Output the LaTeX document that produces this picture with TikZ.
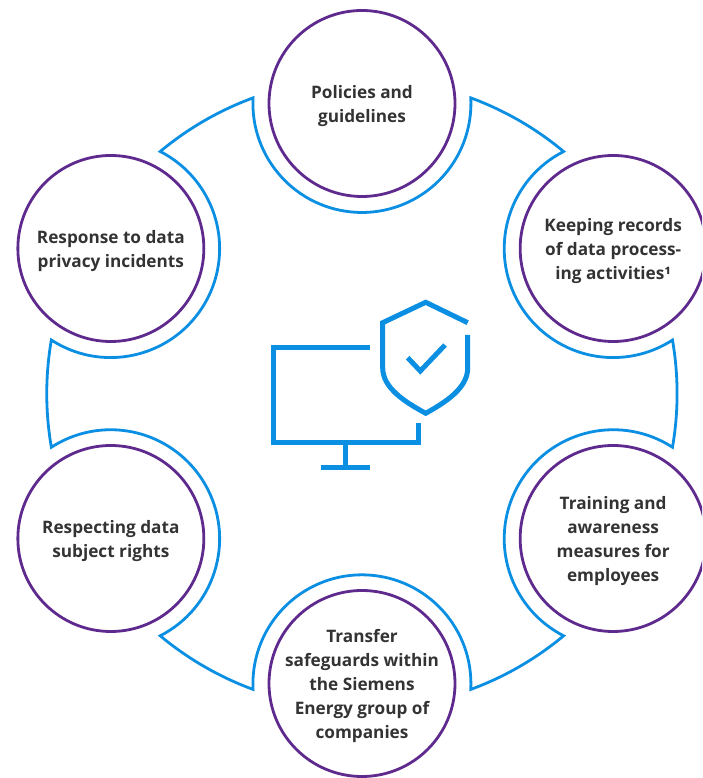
\documentclass[tikz,border=0pt]{standalone}
\usepackage{fontspec}
\usetikzlibrary{calc}
\setmainfont{Open Sans}
\definecolor{ringblue}{HTML}{0A8FE3}
\definecolor{rimpurple}{HTML}{5F2A8E}
\definecolor{labelgray}{HTML}{333333}
\tikzset{
  topic/.style={circle,draw=rimpurple,line width=2.8pt,minimum size=186pt,inner sep=0pt},
  topictext/.style={align=center,text=labelgray,inner sep=0pt,yshift=-2.5pt,
    font=\fontsize{17.2}{24}\selectfont\bfseries},
  ring/.style={draw=ringblue,line width=2.8pt,miter limit=10},
  icon/.style={draw=ringblue,line width=5pt}
}
% one ring segment: small arc inside node at angle #1, then the big arc to the next node
\newcommand{\ringseg}[1]{%
  arc[start angle=#1+87.06,delta angle=185.88,radius=109pt]
  arc[start angle=#1-20.2,delta angle=-19.6,radius=315pt]}
\begin{document}
\begin{tikzpicture}[x=1pt,y=1pt]
\useasboundingbox (0,0) rectangle (702,778);
\clip (0,0) rectangle (702,778);
\coordinate (O) at (362,384.5);
\node[topic,label={[topictext]center:Policies and\\guidelines}] (policies) at ($(O)+(90:290)$) {};
\node[topic,label={[topictext]center:Keeping records\\of data process-\\ing activities¹}] (records) at ($(O)+(30:290)$) {};
\node[topic,label={[topictext]center:Training and\\awareness\\measures for\\employees}] (training) at ($(O)+(-30:290)$) {};
\node[topic,label={[topictext]center:Transfer\\safeguards within\\the Siemens\\Energy group of\\companies}] (transfer) at ($(O)+(-90:290)$) {};
\node[topic,label={[topictext]center:Respecting data\\subject rights}] (rights) at ($(O)+(-150:290)$) {};
\node[topic,label={[topictext]center:Response to data\\privacy incidents}] (response) at ($(O)+(150:290)$) {};
\draw[ring] ($(O)+(50.2:315)$)
  \ringseg{30} \ringseg{-30} \ringseg{-90} \ringseg{-150} \ringseg{150} \ringseg{90} -- cycle;
% monitor
\draw[icon] (370,430.3) -- (273,430.3) -- (273,335.3) -- (418,335.3) -- (418,355.3);
\draw[icon] (345.7,335.3) -- (345.7,310.3);
\draw[icon] (320.7,310.3) -- (370.3,310.3);
% shield
\draw[icon] (467.7,455.3) -- (425.7,475.7) -- (382.7,455.3) -- (382.7,410)
  .. controls (382.7,390) and (405,376) .. (425.7,364.7)
  .. controls (446,376) and (467.7,390) .. (467.7,410) -- (467.7,443);
\draw[icon] (407.7,420.3) -- (420.3,407) -- (445,433);
\end{tikzpicture}
\end{document}
